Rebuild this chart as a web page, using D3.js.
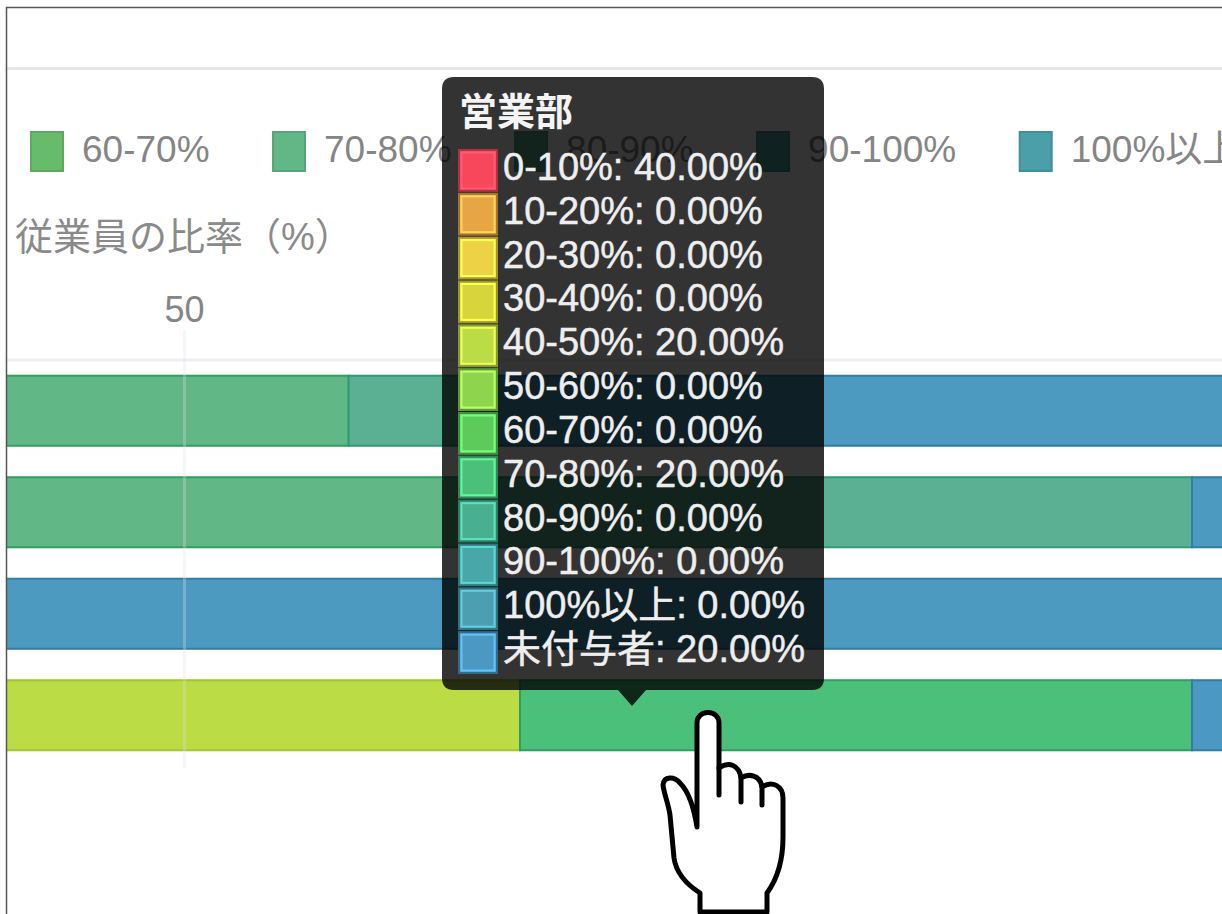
<!DOCTYPE html>
<html>
<head>
<meta charset="utf-8">
<script src="https://cdn.jsdelivr.net/npm/d3@7"></script>
<style>
  html, body { margin: 0; padding: 0; background: #fff; }
  svg { display: block; }
  text { font-family: "Liberation Sans", "Noto Sans CJK JP", sans-serif; }
</style>
</head>
<body>
<div id="chart"></div>
<script>
// Data
const seriesNames = ["0-10%", "10-20%", "20-30%", "30-40%", "40-50%", "50-60%", "60-70%", "70-80%", "80-90%", "90-100%", "100%以上", "未付与者"];
const rowNames = ["row1", "row2", "row3", "営業部"];
const row1Values = [0, 0, 0, 0, 0, 0, 0, 54.9, 4.4, 0, 0, 40.7];
const row2Values = [0, 0, 0, 0, 0, 0, 0, 58.8, 21.2, 0, 0, 20];
const row3Values = [0, 0, 0, 0, 0, 0, 0, 0, 0, 0, 0, 100];
const row4Values = [40, 0, 0, 0, 20, 0, 0, 20, 0, 0, 0, 20];
const rowValues = [row1Values, row2Values, row3Values, row4Values];
const legendNames = ["60-70%", "70-80%", "80-90%", "90-100%", "100%以上"];
const xTicks = [50];
const axisTitle = "従業員の比率（%）";
const tooltipRow = "営業部";

// Colours: bright ones for the hovered row and tooltip, muted ones for the rest
const brightColors = ["#f8475a", "#e8a544", "#ecd244", "#d6d63c", "#bcdc46", "#8ed44c", "#5ccb5c", "#4bc07b", "#48b090", "#48a8a8", "#4c9fb0", "#4b99c2"];
const mutedColors = ["#f0646f", "#e5a94f", "#e8d050", "#d4d44a", "#bcd858", "#90cc5c", "#66bc6a", "#61b785", "#5bb094", "#4aa5a5", "#4a9fa8", "#4c9abf"];
const borderColors = ["#c8202f", "#c07c20", "#b89c18", "#a8a818", "#a5c435", "#6aa830", "#35a040", "#2f9e62", "#2f9a78", "#2f8f8f", "#2f8090", "#2f7ea5"];

const width = 1222;
const height = 914;

const svg = d3.select("#chart")
  .append("svg")
  .attr("width", width)
  .attr("height", height);

// Frame clip, the screenshot is cut off on the left and top
svg.append("clipPath")
  .attr("id", "frame")
  .append("rect")
  .attr("x", 7)
  .attr("y", 8)
  .attr("width", width - 7)
  .attr("height", height - 8);

const root = svg.append("g").attr("clip-path", "url(#frame)");

// Scales
const xScale = d3.scaleLinear().domain([50, 80]).range([184, 1192]);
const yScale = d3.scaleBand()
  .domain(rowNames)
  .range([360, 766])
  .paddingInner(0.31)
  .paddingOuter(0.155);

// Header rule and top rule of the plot
root.append("line")
  .attr("x1", 7).attr("x2", width)
  .attr("y1", 68.5).attr("y2", 68.5)
  .style("stroke", "#e6e7ee")
  .style("stroke-width", 3);
root.append("line")
  .attr("x1", 7).attr("x2", width)
  .attr("y1", 360).attr("y2", 360)
  .style("stroke", "#eeeff3")
  .style("stroke-width", 3);

// Legend, items are laid out one after the other by text width
let legendX = 30;
legendNames.forEach(name => {
  const i = seriesNames.indexOf(name);
  const item = root.append("g").attr("transform", `translate(${legendX},0)`);
  item.append("rect")
    .attr("x", 1).attr("y", 132)
    .attr("width", 32).attr("height", 39)
    .style("fill", mutedColors[i])
    .style("stroke", d3.color(mutedColors[i]).darker(0.3))
    .style("stroke-width", 2);
  const label = item.append("text")
    .attr("x", 52)
    .attr("y", 162)
    .style("font-size", "37px")
    .style("fill", "#858585")
    .text(name);
  legendX += 52 + label.node().getComputedTextLength() + 62.5;
});

// Axis title
root.append("text")
  .attr("x", 15)
  .attr("y", 250)
  .style("font-size", "38px")
  .style("fill", "#8a8a8a")
  .text(axisTitle);

// Stacked bars
const table = rowNames.map((name, r) => {
  const d = { row: name };
  seriesNames.forEach((s, i) => { d[s] = rowValues[r][i]; });
  return d;
});
const stacked = d3.stack().keys(seriesNames)(table);

stacked.forEach((layer, i) => {
  root.append("g")
    .selectAll("rect")
    .data(layer.filter(d => d[1] > d[0]))
    .join("rect")
    .attr("x", d => xScale(d[0]))
    .attr("y", d => yScale(d.data.row))
    .attr("width", d => xScale(d[1]) - xScale(d[0]))
    .attr("height", yScale.bandwidth())
    .style("fill", d => d.data.row === tooltipRow ? brightColors[i] : mutedColors[i])
    .style("stroke", borderColors[i])
    .style("stroke-width", 2);
});

// X axis with the gridline running over the bars
const xAxis = d3.axisTop(xScale)
  .tickValues(xTicks)
  .tickSize(-(768 - 330))
  .tickPadding(8);
const axisG = root.append("g")
  .attr("transform", "translate(0,330)")
  .call(xAxis);
axisG.select(".domain").remove();
axisG.selectAll(".tick line")
  .style("stroke", "#dfe0e8")
  .style("stroke-opacity", 0.3)
  .style("stroke-width", 3);
axisG.selectAll(".tick text")
  .attr("y", -8)
  .style("font-size", "36px")
  .style("font-family", "'Liberation Sans', sans-serif")
  .style("fill", "#858585");

// Tooltip
const tip = root.append("g");
tip.append("path")
  .attr("d", "M454,77 H812 Q824,77 824,89 V678 Q824,690 812,690 H646 L632,706 L618,690 H454 Q442,690 442,678 V89 Q442,77 454,77 Z")
  .style("fill", "rgba(0,0,0,0.8)");
tip.append("text")
  .attr("x", 459)
  .attr("y", 125)
  .style("font-size", "38px")
  .style("font-weight", "bold")
  .style("fill", "#f4f4f4")
  .text(tooltipRow);

const tipY = d3.scaleBand().domain(seriesNames).range([149, 675]);
const tipValues = rowValues[rowNames.indexOf(tooltipRow)];
seriesNames.forEach((name, i) => {
  const y = tipY(name);
  tip.append("rect")
    .attr("x", 459).attr("y", y + 1)
    .attr("width", 38).attr("height", tipY.bandwidth() - 3)
    .style("fill", brightColors[i])
    .style("stroke", d3.color(brightColors[i]).darker(1))
    .style("stroke-width", 2);
  tip.append("rect")
    .attr("x", 461.5).attr("y", y + 3.5)
    .attr("width", 33).attr("height", tipY.bandwidth() - 8)
    .style("fill", "none")
    .style("stroke", d3.color(brightColors[i]).brighter(0.7))
    .style("stroke-width", 2);
  tip.append("text")
    .attr("x", 503)
    .attr("y", y + tipY.bandwidth() / 2 + 9)
    .style("font-size", "38px")
    .style("fill", "#eeeeee")
    .style("stroke", "#eeeeee")
    .style("stroke-width", 0.5)
    .text(`${name}: ${tipValues[i].toFixed(2)}%`);
});

// Pointer hand drawn on top of the screenshot
const hand = root.append("g")
  .style("stroke", "#000")
  .style("stroke-width", 5)
  .style("stroke-linejoin", "round")
  .style("stroke-linecap", "round");
hand.append("path")
  .attr("d", "M700,912 V893 C686,884 676,872 674,858 L670,815 C668,802 664,794 663,785 C664,776 674,776 680,783 C689,792 694,808 697,827 V723 C697,709 719,709 719,723 V768 C729,761 739,765 741,778 C749,773 760,775 762,787 C772,780 783,786 783,798 V837 C783,860 778,878 767,893 V912 Z")
  .style("fill", "#fff");
hand.append("path")
  .attr("d", "M719,768 V795 M741,778 V802 M762,787 V805")
  .style("fill", "none");

// Screenshot border on the left and top
svg.append("path")
  .attr("d", `M6.5,${height} V7.5 H${width}`)
  .style("fill", "none")
  .style("stroke", "#555")
  .style("stroke-width", 1.5);
</script>
</body>
</html>
